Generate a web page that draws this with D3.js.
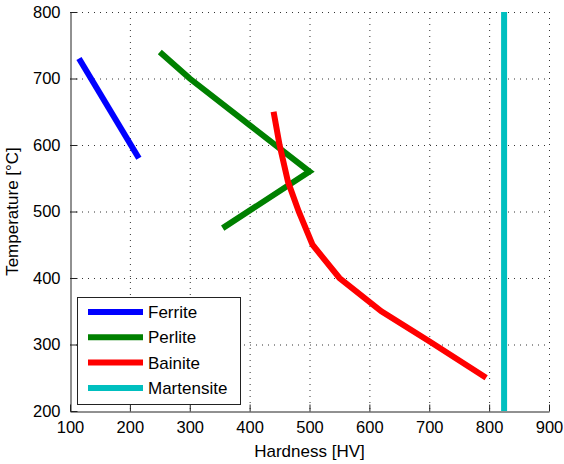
<!DOCTYPE html>
<html>
<head>
<meta charset="utf-8">
<script src="https://cdn.jsdelivr.net/npm/d3@7"></script>
<style>
  body { margin: 0; background: #fff; }
  text { font-family: "Liberation Sans", Arial, sans-serif; fill: #000; }
</style>
</head>
<body>
<div id="chart"></div>
<script>
const xTicks = [100, 200, 300, 400, 500, 600, 700, 800, 900]
const yTicks = [200, 300, 400, 500, 600, 700, 800]

const ferrite = [[115, 730], [215, 580]]
const perlite = [[250, 740], [300, 700], [400, 630], [500, 560], [355, 475]]
const bainite = [[440, 650], [450, 600], [464, 545], [482, 500], [505, 450],
                 [550, 400], [620, 350], [700, 305], [795, 250]]
const martensite = [[825, 200], [825, 800]]

const seriesNames = ["Ferrite", "Perlite", "Bainite", "Martensite"]
const seriesColors = ["#0000ff", "#008000", "#ff0000", "#00bfbf"]
const seriesData = [ferrite, perlite, bainite, martensite]

const width = 564, height = 464
const margin = {left: 70, right: 15, top: 12, bottom: 53}

const x = d3.scaleLinear().domain([100, 900]).range([margin.left, width - margin.right])
const y = d3.scaleLinear().domain([200, 800]).range([height - margin.bottom, margin.top])

const svg = d3.select("#chart")
    .append("svg")
    .attr("width", width)
    .attr("height", height)

// dotted grid
const grid = svg.append("g")
    .attr("stroke", "#333")
    .attr("stroke-width", 1)
    .attr("stroke-dasharray", "1,5")

grid.selectAll(".gx")
  .data(xTicks.slice(1))
  .join("line")
    .attr("x1", d => x(d) + 0.5).attr("x2", d => x(d) + 0.5)
    .attr("y1", y(800)).attr("y2", y(200))

grid.selectAll(".gy")
  .data(yTicks.slice(1))
  .join("line")
    .attr("y1", d => y(d) + 0.5).attr("y2", d => y(d) + 0.5)
    .attr("x1", x(100)).attr("x2", x(900))

// axes
const xAxis = svg.append("g")
    .attr("transform", `translate(0,${y(200) + 0.5})`)
    .call(d3.axisBottom(x).tickValues(xTicks).tickSizeInner(-7).tickSizeOuter(0).tickPadding(11))
const yAxis = svg.append("g")
    .attr("transform", `translate(${x(100) + 0.5},0)`)
    .call(d3.axisLeft(y).tickValues(yTicks).tickSizeInner(-7).tickSizeOuter(0).tickPadding(10))

for (const ax of [xAxis, yAxis]) {
  ax.select(".domain").attr("stroke", "#222")
  ax.selectAll(".tick line").attr("stroke", "#222")
  ax.selectAll(".tick text")
    .style("font-size", "16.5px")
    .style("font-family", "'Liberation Sans', Arial, sans-serif")
    .attr("fill", "#111")
}
xAxis.selectAll(".tick text").attr("dy", "0.62em")

// series
const line = d3.line().x(d => x(d[0])).y(d => y(d[1]))

svg.append("g")
  .selectAll("path")
  .data(seriesData)
  .join("path")
    .attr("fill", "none")
    .attr("stroke", (d, i) => seriesColors[i])
    .attr("stroke-width", 6)
    .attr("stroke-linejoin", "miter")
    .attr("stroke-linecap", "butt")
    .attr("d", line)

// labels
svg.append("text")
    .attr("x", (x(100) + x(900)) / 2)
    .attr("y", 457)
    .attr("text-anchor", "middle")
    .style("font-size", "17px")
    .text("Hardness [HV]")

svg.append("text")
    .attr("transform", `translate(18,${(y(200) + y(800)) / 2}) rotate(-90)`)
    .attr("text-anchor", "middle")
    .style("font-size", "17px")
    .text("Temperature [°C]")

// legend
const legend = svg.append("g")
legend.append("rect")
    .attr("x", 77.5).attr("y", 297.5)
    .attr("width", 163).attr("height", 107)
    .attr("fill", "#fff")
    .attr("stroke", "#222")

const item = legend.selectAll(".item")
  .data(seriesNames)
  .join("g")
    .attr("transform", (d, i) => `translate(0,${312 + i * 25.3})`)

item.append("line")
    .attr("x1", 88).attr("x2", 143)
    .attr("stroke", (d, i) => seriesColors[i])
    .attr("stroke-width", 6)

item.append("text")
    .attr("x", 148)
    .attr("dy", "0.36em")
    .style("font-size", "17px")
    .text(d => d)
</script>
</body>
</html>
